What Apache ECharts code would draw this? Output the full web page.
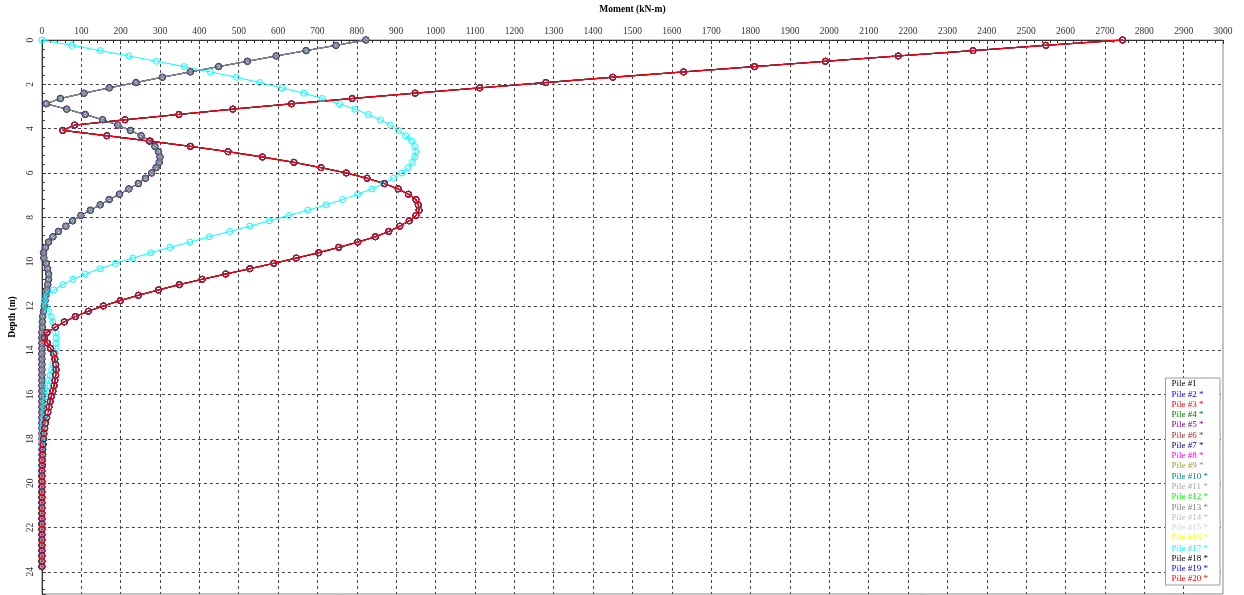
<!DOCTYPE html>
<html>
<head>
<meta charset="utf-8">
<script src="https://cdn.jsdelivr.net/npm/echarts@6/dist/echarts.min.js"></script>
<style>
  html, body { margin: 0; padding: 0; background: #ffffff; }
  #chart { width: 1244px; height: 595px; }
</style>
</head>
<body>
<div id="chart"></div>
<script>
// Node depths along each pile (m)
const depths = [
  0, 0.24, 0.48, 0.72, 0.96, 1.2, 1.44, 1.68, 1.92, 2.16,
  2.4, 2.64, 2.88, 3.12, 3.36, 3.6, 3.84, 4.08, 4.32, 4.56,
  4.8, 5.04, 5.28, 5.52, 5.76, 6, 6.24, 6.48, 6.72, 6.96,
  7.2, 7.44, 7.68, 7.92, 8.16, 8.4, 8.64, 8.88, 9.12, 9.36,
  9.6, 9.84, 10.08, 10.32, 10.56, 10.8, 11.04, 11.28, 11.52, 11.76,
  12, 12.24, 12.48, 12.72, 12.96, 13.2, 13.44, 13.68, 13.92, 14.16,
  14.4, 14.64, 14.88, 15.12, 15.36, 15.6, 15.84, 16.08, 16.32, 16.56,
  16.8, 17.04, 17.28, 17.52, 17.76, 18, 18.24, 18.48, 18.72, 18.96,
  19.2, 19.44, 19.68, 19.92, 20.16, 20.4, 20.64, 20.88, 21.12, 21.36,
  21.6, 21.84, 22.08, 22.32, 22.56, 22.8, 23.04, 23.28, 23.52, 23.76
];

// Moment magnitude (kN-m) at each node, one profile per pile type
const momentProfileA = [
  2745, 2550, 2365, 2175, 1990, 1810, 1630, 1450, 1280, 1112,
  948, 788, 634, 485, 348, 211, 83, 53, 165, 273,
  377, 473, 560, 640, 709, 773, 826, 870, 905, 931,
  950, 956, 958, 950, 933, 909, 881, 847, 802, 754,
  703, 646, 589, 528, 467, 407, 349, 296, 245, 199,
  156, 118, 85, 57, 34, 13, 6, 14, 22, 30,
  33, 35, 36, 35, 33, 31, 28, 24, 21, 18,
  15, 12, 9, 7, 5, 4, 3, 2, 2, 1,
  1, 0, 0, 0, 0, 0, 0, 0, 0, 0,
  0, 0, 0, 0, 0, 0, 0, 0, 0, 0
];
const momentProfileB = [
  823, 747, 671, 595, 522, 449, 377, 306, 239, 171,
  107, 47, 11, 63, 110, 154, 193, 225, 252, 275,
  287, 296, 300, 298, 290, 279, 263, 245, 221, 197,
  171, 148, 123, 99, 78, 61, 42, 28, 17, 9,
  4, 5, 11, 14, 17, 17, 15, 13, 10, 8,
  6, 4, 2, 1, 1, 0, 0, 0, 0, 0,
  0, 0, 0, 0, 0, 0, 0, 0, 0, 0,
  0, 0, 0, 0, 0, 0, 0, 0, 0, 0,
  0, 0, 0, 0, 0, 0, 0, 0, 0, 0,
  0, 0, 0, 0, 0, 0, 0, 0, 0, 0
];
const momentProfileC = [
  0, 76, 148, 221, 291, 361, 428, 494, 553, 610,
  665, 712, 756, 795, 829, 860, 885, 906, 924, 939,
  947, 950, 947, 941, 930, 914, 893, 867, 838, 802,
  764, 722, 675, 627, 578, 528, 477, 425, 376, 325,
  277, 231, 187, 148, 110, 79, 53, 30, 13, 6,
  9, 17, 24, 28, 32, 35, 36, 36, 35, 34,
  31, 28, 25, 21, 17, 14, 12, 10, 9, 8,
  7, 5, 3, 2, 1, 0, 0, 0, 0, 0,
  0, 0, 0, 0, 0, 0, 0, 0, 0, 0,
  0, 0, 0, 0, 0, 0, 0, 0, 0, 0
];

const pileNames = [
  'Pile #1', 'Pile #2 *', 'Pile #3 *', 'Pile #4 *', 'Pile #5 *',
  'Pile #6 *', 'Pile #7 *', 'Pile #8 *', 'Pile #9 *', 'Pile #10 *',
  'Pile #11 *', 'Pile #12 *', 'Pile #13 *', 'Pile #14 *', 'Pile #15 *',
  'Pile #16 *', 'Pile #17 *', 'Pile #18 *', 'Pile #19 *', 'Pile #20 *'
];
// Which moment profile each pile follows
const pileProfiles = [
  'B', 'A', 'A', 'A', 'B', 'A', 'B', 'A', 'A', 'B',
  'B', 'A', 'B', 'A', 'A', 'A', 'C', 'A', 'A', 'A'
];

const pileColors = [
  '#000000', '#0000ff', '#ff0000', '#008000', '#800080',
  '#a52a2a', '#000080', '#ff00ff', '#a09a30', '#008080',
  '#a9a9a9', '#00ff00', '#808080', '#c0c0c0', '#d3d3d3',
  '#ffff00', '#00ffff', '#000000', '#0000ff', '#ff0000'
];

// marker diameter per pile (px)
const markerSizes = [
  5, 6, 6, 6, 6.5, 6, 6, 6, 6, 4.5,
  3, 6, 5.5, 6, 6, 6, 6, 6, 6, 6
];

const profiles = { A: momentProfileA, B: momentProfileB, C: momentProfileC };
const serifFont = '"Liberation Serif", "DejaVu Serif", serif';

const series = pileNames.map((name, i) => {
  const m = profiles[pileProfiles[i]];
  return {
    name: name,
    type: 'line',
    data: depths.map((d, k) => [m[k], d]),
    symbol: 'circle',
    symbolSize: markerSizes[i],
    showSymbol: true,
    lineStyle: { color: pileColors[i], width: i === pileNames.length - 1 ? 1.3 : 1 },
    itemStyle: { color: 'rgba(0,0,0,0)', borderColor: pileColors[i], borderWidth: 1 },
    emphasis: { disabled: true },
    animation: false,
    silent: true
  };
});

const chart = echarts.init(document.getElementById('chart'), null, { renderer: 'canvas' });
chart.setOption({
  backgroundColor: '#ffffff',
  animation: false,
  grid: {
    left: 38, right: 21, top: 37, bottom: 1,
    show: true, borderColor: '#8c8c8c', borderWidth: 1, backgroundColor: '#ffffff'
  },
  xAxis: {
    type: 'value',
    position: 'top',
    min: 0, max: 3000, interval: 100,
    name: 'Moment (kN-m)',
    nameLocation: 'middle',
    nameGap: 25,
    nameTextStyle: { fontFamily: serifFont, fontWeight: 'bold', fontSize: 9.5, color: '#000' },
    axisLine: { show: true, lineStyle: { color: '#333', width: 1 } },
    axisTick: { show: true, inside: true, length: 4, lineStyle: { color: '#333' } },
    minorTick: { show: true, splitNumber: 5, length: 3, lineStyle: { color: '#333' } },
    axisLabel: { fontFamily: serifFont, fontSize: 9.5, color: '#333', margin: 4,
      formatter: v => String(v) },
    splitLine: { show: true, showMinLine: false, showMaxLine: false,
      lineStyle: { type: [3, 3], color: '#444', width: 1 } }
  },
  yAxis: {
    type: 'value',
    inverse: true,
    min: 0, max: 25, interval: 2,
    name: 'Depth (m)',
    nameLocation: 'middle',
    nameGap: 22,
    nameRotate: 90,
    nameTextStyle: { fontFamily: serifFont, fontWeight: 'bold', fontSize: 9.5, color: '#000' },
    axisLine: { show: true, lineStyle: { color: '#333', width: 1 } },
    axisTick: { show: true, inside: true, length: 4, lineStyle: { color: '#333' } },
    minorTick: { show: true, splitNumber: 5, length: 3, lineStyle: { color: '#333' } },
    axisLabel: { fontFamily: serifFont, fontSize: 9.5, color: '#333', margin: 6, rotate: 90,
      showMaxLabel: false, formatter: v => String(v) },
    splitLine: { show: true, showMinLine: false, showMaxLine: false,
      lineStyle: { type: [3, 3], color: '#444', width: 1 } }
  },
  legend: {
    orient: 'vertical',
    right: 24,
    bottom: 10,
    itemWidth: 0,
    itemHeight: 0,
    itemGap: 0.26,
    padding: [1, 12, 1, 0],
    backgroundColor: '#ffffff',
    borderColor: '#9a9a9a',
    borderWidth: 1,
    selectedMode: false,
    textStyle: { fontFamily: serifFont, fontSize: 9, lineHeight: 10 },
    data: pileNames.map((name, i) => ({
      name: name,
      icon: 'rect',
      textStyle: { color: pileColors[i] }
    }))
  },
  series: series
});
</script>
</body>
</html>
